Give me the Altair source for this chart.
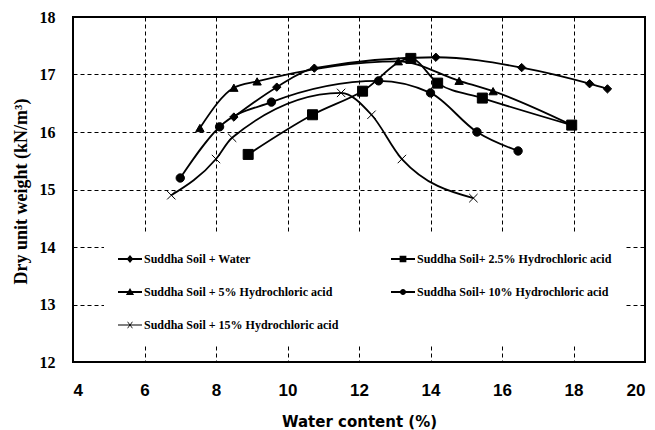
import altair as alt
import pandas as pd

series_names = [
    "Suddha Soil + Water",
    "Suddha Soil+ 2.5% Hydrochloric acid",
    "Suddha Soil + 5% Hydrochloric acid",
    "Suddha Soil+ 10% Hydrochloric acid",
    "Suddha Soil + 15% Hydrochloric acid",
]

water_x = [8.5, 9.7, 10.75, 14.15, 16.55, 18.45, 18.95]
water_y = [16.26, 16.78, 17.11, 17.30, 17.12, 16.84, 16.75]

hcl25_x = [8.9, 10.7, 12.1, 13.45, 14.2, 15.45, 17.95]
hcl25_y = [15.61, 16.30, 16.71, 17.28, 16.85, 16.59, 16.12]

hcl5_x = [7.55, 8.5, 9.15, 13.1, 14.8, 15.75, 17.95]
hcl5_y = [16.07, 16.77, 16.88, 17.23, 16.89, 16.71, 16.12]

hcl10_x = [7.0, 8.1, 9.55, 12.55, 14.0, 15.3, 16.45]
hcl10_y = [15.20, 16.09, 16.52, 16.89, 16.68, 16.00, 15.67]

hcl15_x = [6.75, 8.0, 8.45, 11.5, 12.35, 13.2, 15.2]
hcl15_y = [14.90, 15.53, 15.90, 16.68, 16.30, 15.53, 14.85]

x_ticks = [4, 6, 8, 10, 12, 14, 16, 18, 20]
y_ticks = [12, 13, 14, 15, 16, 17, 18]

all_x = [water_x, hcl25_x, hcl5_x, hcl10_x, hcl15_x]
all_y = [water_y, hcl25_y, hcl5_y, hcl10_y, hcl15_y]

rows = []
for name, xs, ys in zip(series_names, all_x, all_y):
    for i, (a, b) in enumerate(zip(xs, ys)):
        rows.append({"series": name, "w": a, "g": b, "idx": i})
df = pd.DataFrame(rows)

marker_shapes = ["diamond", "square", "triangle-up", "circle", "M-1,-1L1,1M-1,1L1,-1"]

# legend glyphs: a filled bar (the line) plus the filled marker, all clockwise
bar = "M-1,-0.075H1V0.075H-1Z"
thin_bar = "M-1,-0.045H1V0.045H-1Z"
legend_paths = [
    bar + "M0,-0.34L0.28,0L0,0.34L-0.28,0Z",
    bar + "M-0.28,-0.28H0.28V0.28H-0.28Z",
    bar + "M0,-0.34L0.34,0.26H-0.34Z",
    bar + "M-0.25,0A0.25,0.25,0,1,1,0.25,0A0.25,0.25,0,1,1,-0.25,0Z",
    thin_bar
    + "M-0.24,-0.27L-0.17,-0.27L0.24,0.27L0.17,0.27Z"
    + "M0.17,-0.27L0.24,-0.27L-0.17,0.27L-0.24,0.27Z",
]

x_enc = alt.X(
    "w:Q",
    scale=alt.Scale(domain=[4, 20], nice=False, zero=False),
    axis=alt.Axis(
        values=x_ticks,
        title="Water content (%)",
        labelFont="Liberation Sans",
        labelFontWeight="bold",
        labelFontSize=17,
        labelPadding=20,
        titleFont="DejaVu Sans",
        titleFontWeight="bold",
        titleFontSize=15,
        titleBaseline="middle",
        titleY=59,
    ),
)
y_enc = alt.Y(
    "g:Q",
    scale=alt.Scale(domain=[12, 18], nice=False, zero=False),
    axis=alt.Axis(
        values=y_ticks,
        title="Dry unit weight (kN/m³)",
        labelFont="Liberation Serif",
        labelFontWeight="bold",
        labelFontSize=16,
        labelPadding=18,
        titleFont="Liberation Serif",
        titleFontWeight="bold",
        titleFontSize=18,
        titleAlign="center",
        titleBaseline="middle",
        titleX=-52,
        titleY=174,
    ),
)

lines = alt.Chart(df).mark_line(
    interpolate="monotone", color="black", strokeWidth=1.8
).encode(x=x_enc, y=y_enc, detail="series:N", order="idx:Q")

points = alt.Chart(df).mark_point(
    filled=True, fill="black", stroke="black", strokeWidth=1, opacity=1
).encode(
    x=x_enc,
    y=y_enc,
    shape=alt.Shape(
        "series:N",
        scale=alt.Scale(domain=series_names, range=marker_shapes),
        legend=None,
    ),
    size=alt.condition(
        "datum.series == 'Suddha Soil+ 2.5% Hydrochloric acid'",
        alt.value(100),
        alt.value(70),
    ),
)

legend_layer = alt.Chart(df).mark_point(
    filled=True, fill="black", opacity=0
).encode(
    x=x_enc,
    y=y_enc,
    shape=alt.Shape(
        "series:N",
        scale=alt.Scale(domain=series_names, range=legend_paths),
        legend=alt.Legend(
            title=None,
            orient="none",
            direction="horizontal",
            legendX=31,
            legendY=216,
            columns=2,
            columnPadding=52,
            rowPadding=15,
            symbolSize=576,
            symbolFillColor="black",
            symbolStrokeColor="black",
            symbolStrokeWidth=0,
            symbolOpacity=1,
            labelFont="Liberation Serif",
            labelFontWeight="bold",
            labelFontSize=12,
            labelColor="black",
            labelLimit=400,
            labelOffset=2,
            fillColor="white",
            padding=14,
            zindex=2,
        ),
    ),
)

chart = (
    alt.layer(lines, points, legend_layer)
    .resolve_scale(shape="independent")
    .properties(
        width=572,
        height=345,
        autosize=alt.AutoSizeParams(type="none"),
        padding={"left": 73, "top": 17, "right": 10, "bottom": 68},
        background="white",
    )
    .configure_view(stroke="black", strokeWidth=2)
    .configure_axis(
        grid=True,
        gridColor="black",
        gridDash=[4, 3],
        gridWidth=1,
        domain=False,
        ticks=False,
        tickSize=0,
        labelColor="black",
        titleColor="black",
    )
)

chart.save("out.html", embed_options={"renderer": "svg", "actions": False})
